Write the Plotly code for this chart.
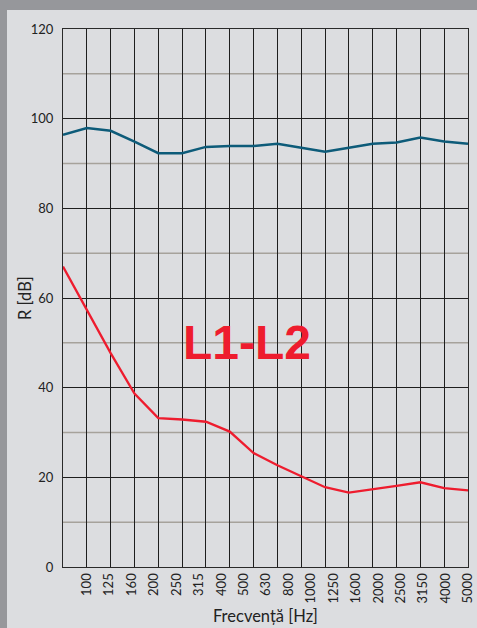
import plotly.graph_objects as go

# ───── datos ──────────────────────────────────────
frecvente = ["100", "125", "160", "200", "250", "315", "400", "500", "630",
             "800", "1000", "1250", "1600", "2000", "2500", "3150", "4000", "5000"]
r_albastru = [96.4, 97.9, 97.3, 94.9, 92.3, 92.3, 93.7, 93.9, 93.9,
              94.4, 93.5, 92.6, 93.5, 94.4, 94.7, 95.8, 94.9, 94.4]
r_rosu = [67.0, 57.3, 47.7, 38.7, 33.2, 32.9, 32.4, 30.2, 25.4,
          22.7, 20.3, 17.8, 16.6, 17.3, 18.1, 18.9, 17.6, 17.1]
y_ticks = [0, 20, 40, 60, 80, 100, 120]

FONT = "Lato, 'Open Sans', sans-serif"
n = len(frecvente)
idx = list(range(n))
# etichetele din original sunt întinse uniform între a doua și ultima linie
pos_etichete = [1 + i * (n - 2) / (n - 1) for i in range(n)]

fig = go.Figure()

# panou interior deschis (primul, ca să rămână sub restul)
fig.add_shape(type="rect", xref="paper", yref="paper",
              x0=-56 / 405, x1=1 + 12 / 405, y0=-70 / 538, y1=1 + 19 / 538,
              fillcolor="#dcdde0", line_width=0, layer="below")

# linii orizontale minore (10, 30, 50 ...)
for v in range(10, 120, 20):
    fig.add_hline(y=v, line=dict(color="#a6a29b", width=1.5), layer="below")

fig.add_scatter(x=idx, y=r_albastru, mode="lines",
                line=dict(color="#0d5b79", width=2.5), showlegend=False)
fig.add_scatter(x=idx, y=r_rosu, mode="lines",
                line=dict(color="#ee1c2e", width=2.3), showlegend=False)

fig.add_annotation(x=7.72, y=50, text="<b>L1-L2</b>", showarrow=False,
                   font=dict(family="'Liberation Sans', Arial", size=48, color="#ee1c2e"))

fig.add_annotation(x=0.5, xref="paper", y=-49 / 538, yref="paper",
                   text="Frecvență [Hz]", showarrow=False, yanchor="middle",
                   font=dict(family=FONT, size=16.5, color="#222"))
fig.add_annotation(x=-38 / 405, xref="paper", y=0.5, yref="paper",
                   text="R [dB]", showarrow=False, textangle=-90, xanchor="center",
                   font=dict(family=FONT, size=16.5, color="#222"))

fig.update_xaxes(
    range=[0, n - 1], tickmode="array", tickvals=pos_etichete, ticktext=frecvente,
    tickangle=-90, ticks="", showgrid=False, zeroline=False, automargin=False,
    showline=True, mirror=True, linecolor="#2a2a2a", linewidth=1.2,
    tickfont=dict(family=FONT, size=13, color="#222"),
    minor=dict(tickmode="array", tickvals=idx, showgrid=True,
               gridcolor="#1e1e1e", gridwidth=1.2),
)
fig.update_yaxes(
    range=[0, 120], tickvals=y_ticks, showgrid=True, gridcolor="#1e1e1e",
    gridwidth=1.2, zeroline=False, ticks="", automargin=False,
    showline=True, mirror=True, linecolor="#2a2a2a", linewidth=1.2,
    tickfont=dict(family=FONT, size=13, color="#222"), ticklabelstandoff=6,
)

fig.update_layout(
    width=477, height=628,
    margin=dict(l=63, r=9, t=29, b=61),
    paper_bgcolor="#96979b", plot_bgcolor="#dcdde0",
    showlegend=False,
)

fig.write_html(
    "out.html",
    config={"displayModeBar": False},
    post_script="document.body.style.margin='0';"
                "document.body.style.overflow='hidden';"
                "document.documentElement.style.overflow='hidden';",
)
